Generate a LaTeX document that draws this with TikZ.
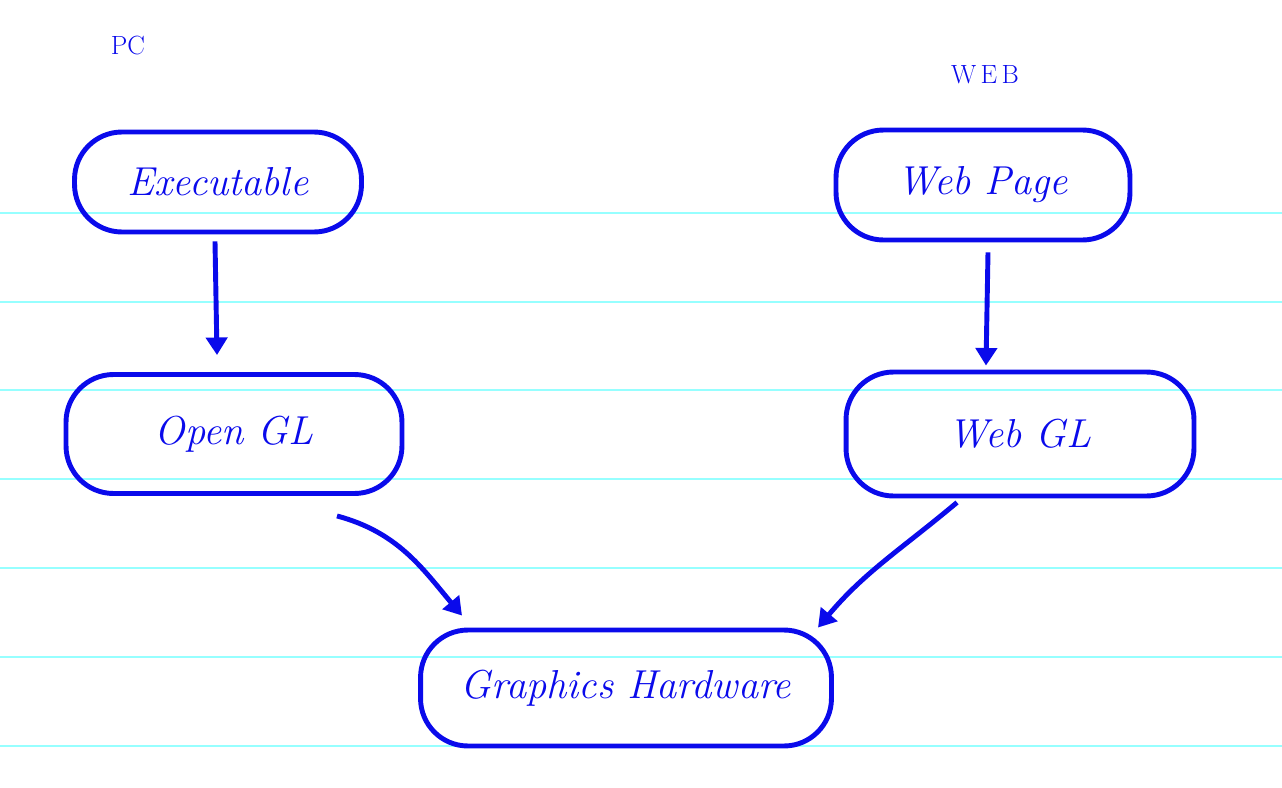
\documentclass[tikz,border=0pt]{standalone}
\usetikzlibrary{arrows.meta}
\definecolor{ink}{RGB}{10,10,235}
\definecolor{ruled}{RGB}{150,255,255}
\tikzset{
  blob/.style={draw=ink, line width=2.8pt, rounded corners=27pt, inner sep=0pt,
    text=ink, font=\fontsize{23}{27}\selectfont\itshape},
  link/.style={->, draw=ink, line width=2.8pt},
  side/.style={text=ink, font=\fontsize{15}{18}\selectfont},
}
\begin{document}
\begin{tikzpicture}[>={Triangle[length=10pt,width=12pt]}, x=0.02cm, y=-0.02cm]
\useasboundingbox (0,0) rectangle (1282,788);
% ruled paper
\foreach \ry in {213,302,390,479,568,657,746}
  \draw[ruled, line width=0.6pt] (0,\ry)--(1282,\ry);

\node[side] (pc) at (128,45) {PC};
\node[side] (web) at (985,75) {W\,E\,B};

\node[blob, minimum width=5.74cm, minimum height=2cm] (exe) at (218,182) {Executable};
\node[blob, minimum width=5.88cm, minimum height=2.2cm] (page) at (983,185) {Web Page};
\node[blob, minimum width=6.72cm, minimum height=2.38cm] (ogl) at (234,434) {Open GL};
\node[blob, minimum width=6.96cm, minimum height=2.48cm] (wgl) at (1020,434) {Web GL};
\node[blob, minimum width=8.22cm, minimum height=2.32cm] (gh) at (626,688) {Graphics Hardware};

\draw[link] ([shift={(-3,7)}]exe.south)--([shift={(-17,-17)}]ogl.north);
\draw[link] ([shift={(5,10)}]page.south)--([shift={(-34,-4)}]wgl.north);
\draw[link] ([shift={(103,20)}]ogl.south) to[out=-15,in=130] ([shift={(-164,-12)}]gh.north);
\draw[link] ([shift={(-63,4)}]wgl.south) to[out=-140,in=50] ([shift={(192,0)}]gh.north);

\end{tikzpicture}
\end{document}
